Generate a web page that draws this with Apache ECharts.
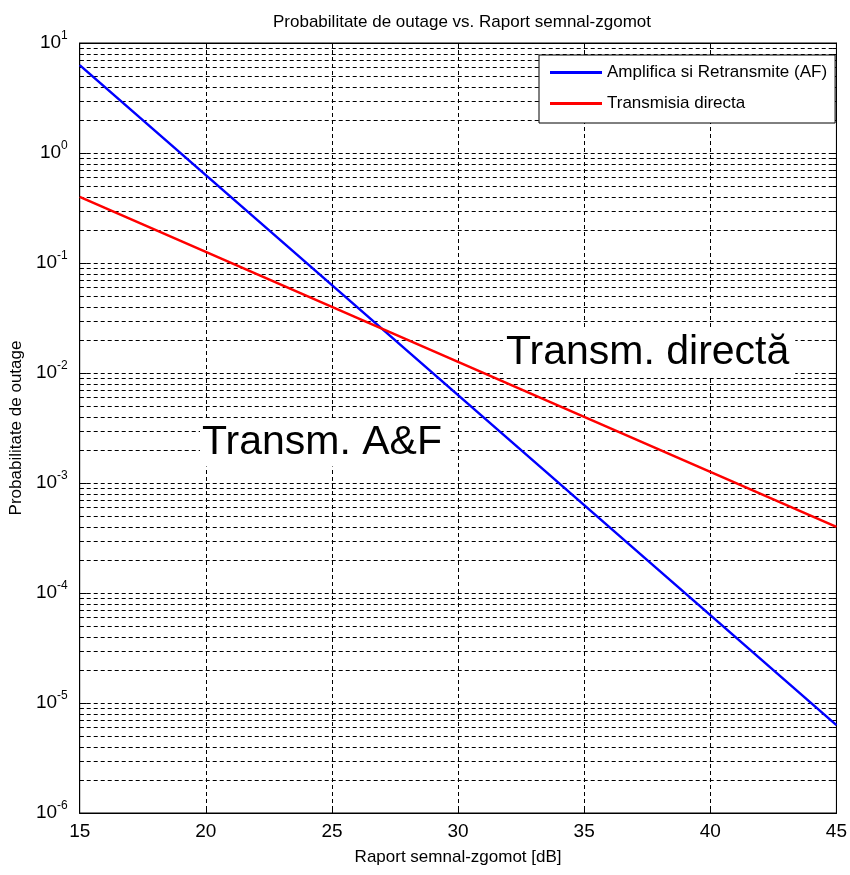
<!DOCTYPE html>
<html>
<head>
<meta charset="utf-8">
<script src="https://cdn.jsdelivr.net/npm/echarts@6/dist/echarts.min.js"></script>
<style>
  html, body { margin: 0; padding: 0; background: #fff; }
  #chart { width: 850px; height: 875px; }
</style>
</head>
<body>
<div id="chart"></div>
<script>
// SNR in dB
const snrDb = [15, 20, 25, 30, 35, 40, 45];
// Amplifica si Retransmite (AF)
const afValues = [6.3, 0.63, 0.063, 0.0063, 0.00063, 0.000063, 0.0000063];
// Transmisia directa
const directValues = [0.4, 0.126, 0.04, 0.0126, 0.004, 0.00126, 0.0004];

const seriesNames = ['Amplifica si Retransmite (AF)', 'Transmisia directa'];
const xRange = [15, 45];
const yDecades = [-6, -5, -4, -3, -2, -1, 0];
const minorSteps = [2, 3, 4, 5, 6, 7, 8, 9];

const font = '"Liberation Sans", Arial, sans-serif';
const gridDash = [4, 3];

// minor log grid values (2..9 x 10^k)
const minorGrid = [];
yDecades.forEach((d) => {
  minorSteps.forEach((m) => {
    minorGrid.push([xRange[0], m * Math.pow(10, d)]);
  });
});

const chart = echarts.init(document.getElementById('chart'));

// dashed minor grid line plus short inner ticks on both sides
function renderMinorLine(params, api) {
  const v = api.value(1);
  const a = api.coord([xRange[0], v]);
  const b = api.coord([xRange[1], v]);
  const y = Math.round(a[1]) + 0.5;
  return {
    type: 'group',
    children: [
      {
        type: 'line',
        shape: { x1: a[0], y1: y, x2: b[0], y2: y },
        style: { stroke: '#000', lineWidth: 1, lineDash: gridDash }
      },
      {
        type: 'line',
        shape: { x1: a[0], y1: y, x2: a[0] + 4, y2: y },
        style: { stroke: '#000', lineWidth: 1 }
      },
      {
        type: 'line',
        shape: { x1: b[0] - 4, y1: y, x2: b[0], y2: y },
        style: { stroke: '#000', lineWidth: 1 }
      }
    ]
  };
}

chart.setOption({
  animation: false,
  backgroundColor: '#fff',
  title: {
    text: 'Probabilitate de outage vs. Raport semnal-zgomot',
    left: 457,
    top: 9,
    textAlign: 'center',
    textStyle: { fontFamily: font, fontSize: 17, fontWeight: 'normal', color: '#000' }
  },
  grid: {
    left: 73,
    right: 8,
    top: 43,
    bottom: 62,
    show: true,
    borderColor: '#000',
    borderWidth: 1,
    backgroundColor: '#fff'
  },
  legend: {
    orient: 'vertical',
    left: 539,
    top: 55,
    z: 30,
    data: seriesNames,
    icon: 'rect',
    itemWidth: 52,
    itemHeight: 3,
    itemGap: 14,
    padding: [9, 8, 11, 11],
    backgroundColor: '#fff',
    borderColor: '#000',
    borderWidth: 1,
    textStyle: { fontFamily: font, fontSize: 17, color: '#000' }
  },
  xAxis: [
    {
      type: 'value',
      min: 15,
      max: 45,
      interval: 5,
      name: 'Raport semnal-zgomot [dB]',
      nameLocation: 'middle',
      nameGap: 36,
      nameTextStyle: { fontFamily: font, fontSize: 17, color: '#000' },
      axisLine: { lineStyle: { color: '#000' } },
      axisTick: { inside: true, length: 6, lineStyle: { color: '#000' } },
      axisLabel: { fontFamily: font, fontSize: 19, color: '#000', margin: 9 },
      splitLine: { show: true, lineStyle: { color: '#000', type: gridDash, width: 1 } }
    },
    {
      type: 'value',
      position: 'top',
      min: 15,
      max: 45,
      interval: 5,
      axisLine: { lineStyle: { color: '#000' } },
      axisTick: { inside: true, length: 6, lineStyle: { color: '#000' } },
      axisLabel: { show: false },
      splitLine: { show: false }
    }
  ],
  yAxis: [
    {
      type: 'log',
      logBase: 10,
      min: 1e-6,
      max: 10,
      interval: 1,
      name: 'Probabilitate de outage',
      nameLocation: 'middle',
      nameGap: 46,
      nameTextStyle: { fontFamily: font, fontSize: 17, color: '#000' },
      axisLine: { lineStyle: { color: '#000' } },
      axisTick: { inside: true, length: 7, lineStyle: { color: '#000' } },
      axisLabel: {
        margin: 12,
        formatter: (v) => '{b|10}{s|' + Math.round(Math.log10(v)) + '}',
        rich: {
          b: { fontFamily: font, fontSize: 19, color: '#000' },
          s: { fontFamily: font, fontSize: 12, color: '#000', padding: [0, 0, 14, 0] }
        }
      },
      splitLine: { show: true, lineStyle: { color: '#000', type: gridDash, width: 1 } }
    },
    {
      type: 'log',
      logBase: 10,
      min: 1e-6,
      max: 10,
      interval: 1,
      position: 'right',
      axisLine: { lineStyle: { color: '#000' } },
      axisTick: { inside: true, length: 7, lineStyle: { color: '#000' } },
      axisLabel: { show: false },
      splitLine: { show: false }
    }
  ],
  graphic: [
    {
      type: 'text',
      z: 50,
      style: {
        text: 'Transm. A&F',
        x: 200,
        y: 443,
        verticalAlign: 'middle',
        font: '41px "Liberation Sans", Arial, sans-serif',
        fill: '#000',
        backgroundColor: '#fff',
        padding: [3, 8, 3, 2]
      }
    },
    {
      type: 'text',
      z: 50,
      style: {
        text: 'Transm. directă',
        x: 503,
        y: 353,
        verticalAlign: 'middle',
        font: '41px "Liberation Sans", Arial, sans-serif',
        fill: '#000',
        backgroundColor: '#fff',
        padding: [3, 6, 3, 3]
      }
    }
  ],
  series: [
    {
      type: 'custom',
      silent: true,
      z: 1,
      renderItem: renderMinorLine,
      data: minorGrid
    },
    {
      name: seriesNames[0],
      type: 'line',
      data: snrDb.map((x, i) => [x, afValues[i]]),
      showSymbol: false,
      symbol: 'none',
      color: '#0000ff',
      lineStyle: { color: '#0000ff', width: 2.5 },
      z: 10
    },
    {
      name: seriesNames[1],
      type: 'line',
      data: snrDb.map((x, i) => [x, directValues[i]]),
      showSymbol: false,
      symbol: 'none',
      color: '#ff0000',
      lineStyle: { color: '#ff0000', width: 2.5 },
      z: 10
    }
  ]
});
</script>
</body>
</html>
